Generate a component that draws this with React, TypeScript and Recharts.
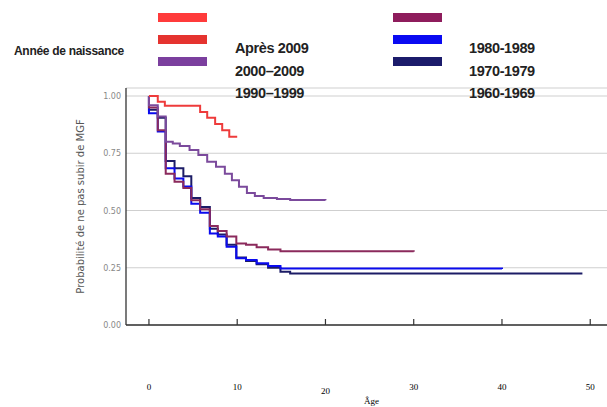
import React from 'react';
import { LineChart, Line, XAxis, YAxis, CartesianGrid, Label } from 'recharts';

// ---- Legend (as printed in the reference) ----
const legendTitle = 'Année de naissance';
const legendNames = ['Après 2009', '2000–2009', '1990–1999', '1980-1989', '1970-1979', '1960-1969'];
const legendColors = ['#ff3b3b', '#e5332f', '#7b3f9e', '#8e1c5c', '#0a0af2', '#1b1b6b'];

// ---- Axis ticks ----
const xTicks = [0, 10, 20, 30, 40, 50];
const yTicks = [0, 0.25, 0.5, 0.75, 1];

// ---- Kaplan–Meier curves (age in years, survival probability) ----
const agesApres2009 = [0, 1, 1.8, 5.8, 6.6, 7.5, 8.3, 9.1, 10];
const survApres2009 = [1.0, 0.975, 0.958, 0.93, 0.905, 0.878, 0.85, 0.822, 0.822];

const ages2000 = [0, 0, 1, 1.9, 2.7, 3.5, 4.6, 5.6, 6.6, 7.6, 8.6, 9.4, 10.2, 11.1, 12, 13, 14.5, 16, 20];
const surv2000 = [1.0, 0.96, 0.91, 0.8, 0.793, 0.782, 0.764, 0.742, 0.713, 0.691, 0.66, 0.632, 0.604, 0.576, 0.563, 0.555, 0.55, 0.546, 0.545];

const ages1990 = [0, 0, 1, 1.9, 2.9, 3.9, 4.8, 5.8, 6.9, 7.8, 8.8, 9.9, 11, 12.2, 13.5, 14.9, 30];
const surv1990 = [1.0, 0.95, 0.85, 0.66, 0.626, 0.598, 0.545, 0.505, 0.432, 0.41, 0.386, 0.356, 0.35, 0.34, 0.33, 0.322, 0.32];

const ages1980 = [0, 0, 1, 1.9, 2.9, 3.9, 4.8, 5.8, 6.9, 7.8, 8.8, 9.9, 11, 12.2, 13.5, 14.9, 40];
const surv1980 = [1.0, 0.925, 0.845, 0.685, 0.64, 0.605, 0.53, 0.49, 0.4, 0.386, 0.342, 0.292, 0.284, 0.27, 0.258, 0.247, 0.245];

const ages1970 = [0, 0, 1, 1.9, 2.9, 3.9, 4.8, 5.8, 6.9, 7.8, 8.8, 9.9, 11, 12.2, 13.5, 14.9, 16, 49];
const surv1970 = [1.0, 0.94, 0.905, 0.716, 0.685, 0.65, 0.555, 0.515, 0.42, 0.395, 0.35, 0.295, 0.28, 0.265, 0.25, 0.233, 0.225, 0.221];

const toRows = (ages: number[], surv: number[]) => ages.map((a, i) => ({ age: a, p: surv[i] }));

const curves = [
  { name: '1970-1979', color: '#1c1c66', data: toRows(ages1970, surv1970) },
  { name: '1980-1989', color: '#0a0aee', data: toRows(ages1980, surv1980) },
  { name: '1990–1999', color: '#8b2a5c', data: toRows(ages1990, surv1990) },
  { name: '2000–2009', color: '#7b4a9c', data: toRows(ages2000, surv2000) },
  { name: 'Après 2009', color: '#ee3b3b', data: toRows(agesApres2009, survApres2009) },
];

const XTick = (props: any) => {
  const { x, y, payload } = props;
  const extra = payload.value === 20 ? 4 : 0;
  return (
    <g>
      <line x1={x} x2={x} y1={y - 6} y2={y} stroke="#333" strokeWidth={1.2} />
      <text x={x} y={y + 65 + extra} textAnchor="middle" fontFamily="'Liberation Serif', serif" fontSize={9} fill="#000" stroke="none">
        {payload.value}
      </text>
    </g>
  );
};

const YTick = (props: any) => {
  const { x, y, payload } = props;
  return (
    <text x={x} y={y + 3} textAnchor="end" fontFamily="'DejaVu Sans', sans-serif" fontSize={8} fill="#888" stroke="none">
      {Number(payload.value).toFixed(2)}
    </text>
  );
};

const LegendBlock = () => {
  const swatchX = [158, 393];
  const labelX = [235, 469];
  const swatchY = [13, 35, 57];
  const labelY = [53, 75.5, 97.5];
  return (
    <div style={{ position: 'absolute', left: 0, top: 0, width: 607, height: 110, pointerEvents: 'none' }}>
      <div
        style={{
          position: 'absolute', left: 14, top: 44, fontFamily: "'Liberation Sans', Arial, sans-serif",
          fontWeight: 700, fontSize: 12, color: '#222', letterSpacing: -0.3, whiteSpace: 'nowrap',
        }}
      >
        {legendTitle}
      </div>
      {legendNames.map((n, i) => {
        const col = i < 3 ? 0 : 1;
        const row = i % 3;
        return (
          <React.Fragment key={n}>
            <div
              style={{
                position: 'absolute', left: swatchX[col], top: swatchY[row], width: 49, height: 9,
                background: legendColors[i],
              }}
            />
            <div
              style={{
                position: 'absolute', left: labelX[col], top: labelY[row] - 13, fontFamily: "'Liberation Sans', Arial, sans-serif",
                fontWeight: 700, fontSize: 14.5, lineHeight: '16px', color: '#222', letterSpacing: -0.4, whiteSpace: 'nowrap',
              }}
            >
              {n}
            </div>
          </React.Fragment>
        );
      })}
    </div>
  );
};

export default function App() {
  return (
    <div style={{ position: 'absolute', left: 0, top: 0, width: 607, height: 407, background: '#fff' }}>
      <LineChart width={607} height={407} margin={{ top: 88, right: 0, bottom: 0, left: 0 }}>
        <CartesianGrid horizontal vertical={false} stroke="#cfcfcf" strokeWidth={1} />
        <XAxis
          type="number"
          dataKey="age"
          domain={[-2.6, 51.9]}
          ticks={xTicks}
          interval={0}
          allowDataOverflow
          height={82}
          stroke="#333"
          strokeWidth={1.3}
          tickLine={false}
          tickSize={0}
          tickMargin={0}
          tick={<XTick />}
        >
          <Label
            value="Âge"
            position="insideBottom"
            offset={3}
            dx={5}
            fill="#000"
            stroke="none"
            style={{ fontFamily: "'Liberation Serif', serif", fontSize: 9, fill: '#000' }}
          />
        </XAxis>
        <YAxis
          type="number"
          domain={[0, 1.035]}
          ticks={yTicks}
          interval={0}
          allowDataOverflow
          width={126}
          stroke="#333"
          strokeWidth={1.3}
          tickLine={false}
          tickSize={0}
          tickMargin={5}
          tick={<YTick />}
        >
          <Label
            value="Probabilité de ne pas subir de MGF"
            angle={-90}
            position="center"
            dx={17}
            fill="#555"
            stroke="none"
            style={{ fontFamily: "'DejaVu Sans', sans-serif", fontSize: 10, fill: '#555', textAnchor: 'middle' }}
          />
        </YAxis>
        {curves.map((c) => (
          <Line
            key={c.name}
            name={c.name}
            data={c.data}
            dataKey="p"
            type="stepAfter"
            stroke={c.color}
            strokeWidth={2}
            dot={false}
            activeDot={false}
            isAnimationActive={false}
          />
        ))}
      </LineChart>
      <LegendBlock />
    </div>
  );
}
